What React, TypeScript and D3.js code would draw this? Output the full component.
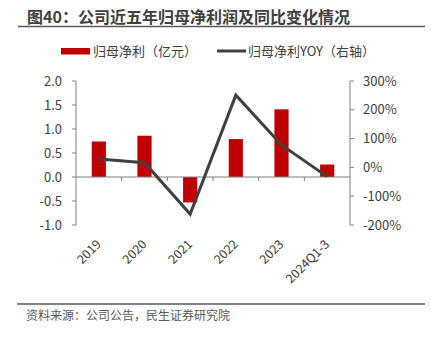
import React from "react";
import * as d3 from "d3";

const categories = ["2019", "2020", "2021", "2022", "2023", "2024Q1-3"];
const profit = [0.74, 0.86, -0.53, 0.79, 1.41, 0.26];
const yoy = [29, 16, -162, 251, 78, -32];
const leftTicks = [2.0, 1.5, 1.0, 0.5, 0.0, -0.5, -1.0];
const rightTicks = [300, 200, 100, 0, -100, -200];

const W = 431;
const H = 337;
const FONT = "'Noto Sans CJK SC', 'Microsoft YaHei', sans-serif";
const TXT = "#404040";
const AX = "#808080";

export default function App() {
  const x = d3.scaleBand<string>().domain(categories).range([76, 350]);
  const yL = d3.scaleLinear().domain([-1, 2]).range([225, 81]);
  const yR = d3.scaleLinear().domain([-200, 300]).range([225, 81]);
  const bw = x.bandwidth() * 0.31;
  const line = d3
    .line<number>()
    .x((_, i) => (x(categories[i]) as number) + x.bandwidth() / 2)
    .y((d) => yR(d));

  return (
    <svg width={W} height={H} style={{ position: "absolute", left: 0, top: 0, fontFamily: FONT }}>
      <text x={27} y={23} fontSize={16} fontWeight="bold" fill={TXT}>
        图40：公司近五年归母净利润及同比变化情况
      </text>
      <line x1={18} x2={425} y1={26.5} y2={26.5} stroke="#595959" strokeWidth={1.3} />

      {/* legend */}
      <rect x={61} y={48} width={29} height={6.5} fill="#c00000" />
      <text x={93} y={56} fontSize={13} fill={TXT}>归母净利（亿元）</text>
      <line x1={217} x2={246} y1={51} y2={51} stroke="#404040" strokeWidth={3} />
      <text x={248} y={56} fontSize={13} fill={TXT}>归母净利YOY（右轴）</text>

      {/* left axis */}
      <line x1={76} x2={76} y1={yL(2)} y2={yL(-1)} stroke={AX} strokeWidth={1} />
      {leftTicks.map((t) => (
        <g key={"l" + t}>
          <line x1={72} x2={76} y1={yL(t)} y2={yL(t)} stroke={AX} />
          <text x={62} y={yL(t)} dy="0.35em" textAnchor="end" fontSize={13} fill={TXT}>
            {t.toFixed(1)}
          </text>
        </g>
      ))}

      {/* right axis */}
      <line x1={350} x2={350} y1={yR(300)} y2={yR(-200)} stroke={AX} strokeWidth={1} />
      {rightTicks.map((t) => (
        <g key={"r" + t}>
          <line x1={350} x2={354} y1={yR(t)} y2={yR(t)} stroke={AX} />
          <text x={363} y={yR(t)} dy="0.35em" textAnchor="start" fontSize={13} fill={TXT}>
            {t + "%"}
          </text>
        </g>
      ))}

      {/* bars */}
      {profit.map((v, i) => {
        const cx = (x(categories[i]) as number) + x.bandwidth() / 2;
        return (
          <rect
            key={"b" + i}
            x={cx - bw / 2}
            width={bw}
            y={Math.min(yL(v), yL(0))}
            height={Math.abs(yL(v) - yL(0))}
            fill="#c00000"
          />
        );
      })}

      {/* baseline and category ticks */}
      <line x1={76} x2={350} y1={yL(0)} y2={yL(0)} stroke={AX} strokeWidth={1} />
      {categories.slice(1).map((c) => (
        <line key={"t" + c} x1={x(c)} x2={x(c)} y1={yL(0)} y2={yL(0) + 4} stroke={AX} />
      ))}

      {/* yoy line */}
      <path d={line(yoy) || ""} fill="none" stroke="#404040" strokeWidth={3} strokeLinejoin="miter" />

      {/* x labels */}
      {categories.map((c) => {
        const cx = (x(c) as number) + x.bandwidth() / 2 + 3;
        const cy = 245;
        return (
          <text
            key={"x" + c}
            x={cx}
            y={cy}
            transform={`rotate(-45 ${cx} ${cy})`}
            textAnchor="end"
            fontSize={12.5}
            fill={TXT}
          >
            {c}
          </text>
        );
      })}

      <line x1={17} x2={425} y1={304} y2={304} stroke="#595959" strokeWidth={1.3} />
      <text x={26} y={320} fontSize={12} fill="#595959">资料来源：公司公告，民生证券研究院</text>
    </svg>
  );
}
